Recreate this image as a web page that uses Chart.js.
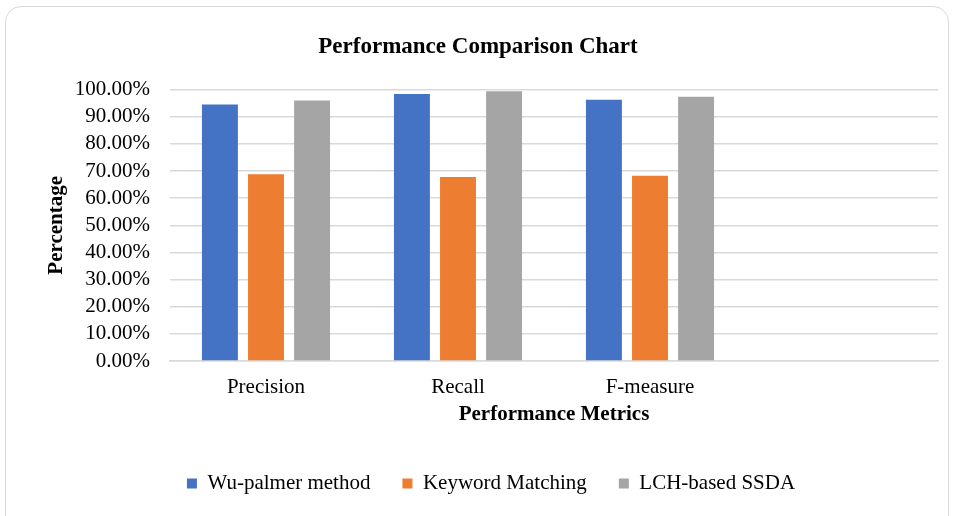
<!DOCTYPE html>
<html>
<head>
<meta charset="utf-8">
<script src="https://cdn.jsdelivr.net/npm/chart.js@4.4.1/dist/chart.umd.min.js"></script>
<style>
  html, body { margin: 0; padding: 0; background: #fff; }
  #wrap { position: relative; width: 956px; height: 516px; overflow: hidden; }
  #frame {
    position: absolute; left: 5px; top: 6px; width: 942px; height: 530px;
    border: 1.5px solid #d9d9d9; border-radius: 16px; pointer-events: none;
  }
  canvas { position: absolute; left: 0; top: 0; }
</style>
</head>
<body>
<div id="wrap">
  <div id="frame"></div>
  <canvas id="chart" width="956" height="516"></canvas>
</div>
<script>
// categories (the 4th slot is empty in the original)
const metrics = ['Precision', 'Recall', 'F-measure', ''];

// series values in percent
const wuPalmer = [94.5, 98.4, 96.3, null];
const keywordMatching = [68.8, 67.8, 68.3, null];
const lchSsda = [96.0, 99.4, 97.4, null];

const seriesNames = ['Wu-palmer method', 'Keyword Matching', 'LCH-based SSDA'];
const seriesColors = ['#4472C4', '#ED7D31', '#A5A5A5'];

const serif = "'Liberation Serif', 'Times New Roman', serif";

function barSet(i, data) {
  return {
    label: seriesNames[i],
    data: data,
    backgroundColor: seriesColors[i],
    borderWidth: 0,
    categoryPercentage: 0.72,
    barPercentage: 0.78,
  };
}

// the legend in the original sits a little right of centre
const legendShift = {
  id: 'legendShift',
  afterLayout(chart) {
    chart.legend.left += 13;
    chart.legend.right += 13;
  },
};

const ctx = document.getElementById('chart').getContext('2d');
new Chart(ctx, {
  type: 'bar',
  data: {
    labels: metrics,
    datasets: [
      barSet(0, wuPalmer),
      barSet(1, keywordMatching),
      barSet(2, lchSsda),
    ],
  },
  plugins: [legendShift],
  options: {
    responsive: false,
    animation: false,
    layout: { padding: { left: 18, right: 18, top: 29, bottom: 12 } },
    plugins: {
      title: {
        display: true,
        text: 'Performance Comparison Chart',
        color: '#000',
        font: { family: serif, size: 23, weight: 'bold' },
        padding: { top: 4, bottom: 29 },
      },
      legend: {
        position: 'bottom',
        labels: {
          color: '#000',
          font: { family: serif, size: 21 },
          usePointStyle: true,
          pointStyle: 'rect',
          boxWidth: 10,
          boxHeight: 10,
          padding: 32,
        },
      },
      tooltip: { enabled: false },
    },
    scales: {
      x: {
        grid: { display: false, drawTicks: false },
        border: { color: '#d9d9d9', width: 1.5 },
        ticks: { color: '#000', font: { family: serif, size: 21 }, padding: 14 },
        title: {
          display: true,
          text: 'Performance Metrics',
          color: '#000',
          font: { family: serif, size: 21, weight: 'bold' },
          padding: { top: 2, bottom: 14 },
        },
        afterFit: scale => { scale.height = 80; },
      },
      y: {
        min: 0,
        max: 100,
        ticks: {
          stepSize: 10,
          autoSkip: false,
          color: '#000',
          font: { family: serif, size: 21 },
          padding: 20,
          callback: v => v.toFixed(2) + '%',
        },
        grid: { color: '#d9d9d9', lineWidth: 1.5, drawTicks: false },
        border: { display: false },
        title: {
          display: true,
          text: 'Percentage',
          color: '#000',
          font: { family: serif, size: 21, weight: 'bold' },
          padding: { top: 26, bottom: 4 },
        },
        afterFit: scale => { scale.width = 152; },
      },
    },
  },
});
</script>
</body>
</html>
